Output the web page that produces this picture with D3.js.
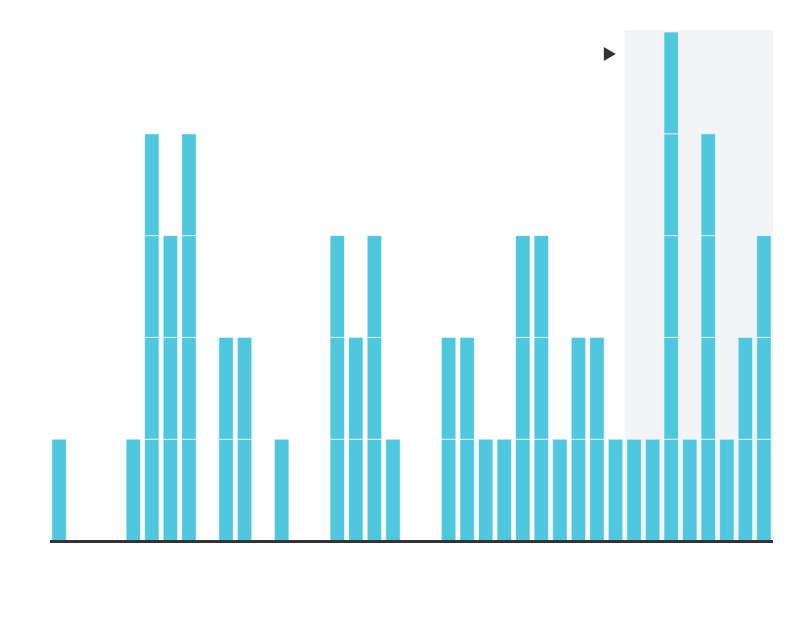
<!DOCTYPE html>
<html>
<head>
<meta charset="utf-8">
<script src="https://cdn.jsdelivr.net/npm/d3@7/dist/d3.min.js"></script>
<style>
  html, body { margin: 0; padding: 0; background: #fff; }
  svg { display: block; font-family: "Open Sans", sans-serif; }
</style>
</head>
<body>
<svg id="chart" width="800" height="620"></svg>
<script>
// Data: count of unit blocks per slot
const slots = d3.range(39);
const counts = [1,0,0,0,1,4,3,4,0,2,2,0,1,0,0,3,2,3,1,0,0,2,2,1,1,3,3,1,2,2,1,1,1,5,1,4,1,2,3];
const highlightStart = 31; // shaded brush region from this slot to the end
const yMax = 5;

const svg = d3.select("#chart");
const margin = {left: 50, right: 27, top: 32, bottom: 79};
const W = 800, H = 620;

const x = d3.scaleBand()
  .domain(slots)
  .range([margin.left, W - margin.right])
  .paddingInner(0.22)
  .paddingOuter(0.1);

const y = d3.scaleLinear()
  .domain([0, yMax])
  .range([H - margin.bottom, margin.top]);

// Shaded selection region
const step = x.step();
const padHalf = step * x.paddingInner() / 2;
svg.append("rect")
  .attr("x", x(highlightStart) - padHalf)
  .attr("y", y(yMax) - 2)
  .attr("width", (W - margin.right) - (x(highlightStart) - padHalf))
  .attr("height", y(0) - y(yMax) + 2)
  .attr("fill", "#f3f4f6");

// Unit blocks
const blocks = [];
counts.forEach((c, i) => {
  for (let k = 0; k < c; k++) blocks.push({slot: slots[i], k});
});

svg.append("g")
  .selectAll("rect")
  .data(blocks)
  .join("rect")
  .attr("x", d => x(d.slot))
  .attr("y", d => y(d.k + 1))
  .attr("width", x.bandwidth())
  .attr("height", d => y(d.k) - y(d.k + 1))
  .attr("fill", "#4fc7de")
  .attr("stroke", "#fff")
  .attr("stroke-opacity", 0.6)
  .attr("stroke-width", 1);

// Baseline axis
svg.append("line")
  .attr("x1", margin.left)
  .attr("x2", W - margin.right)
  .attr("y1", y(0) + 0.5)
  .attr("y2", y(0) + 0.5)
  .attr("stroke", "#333")
  .attr("stroke-width", 3);

// Play/arrow marker
const tx = x(highlightStart) - padHalf - 21, ty = 54;
svg.append("path")
  .attr("d", `M${tx},${ty - 7}L${tx + 12},${ty}L${tx},${ty + 7}Z`)
  .attr("fill", "#333");
</script>
</body>
</html>
